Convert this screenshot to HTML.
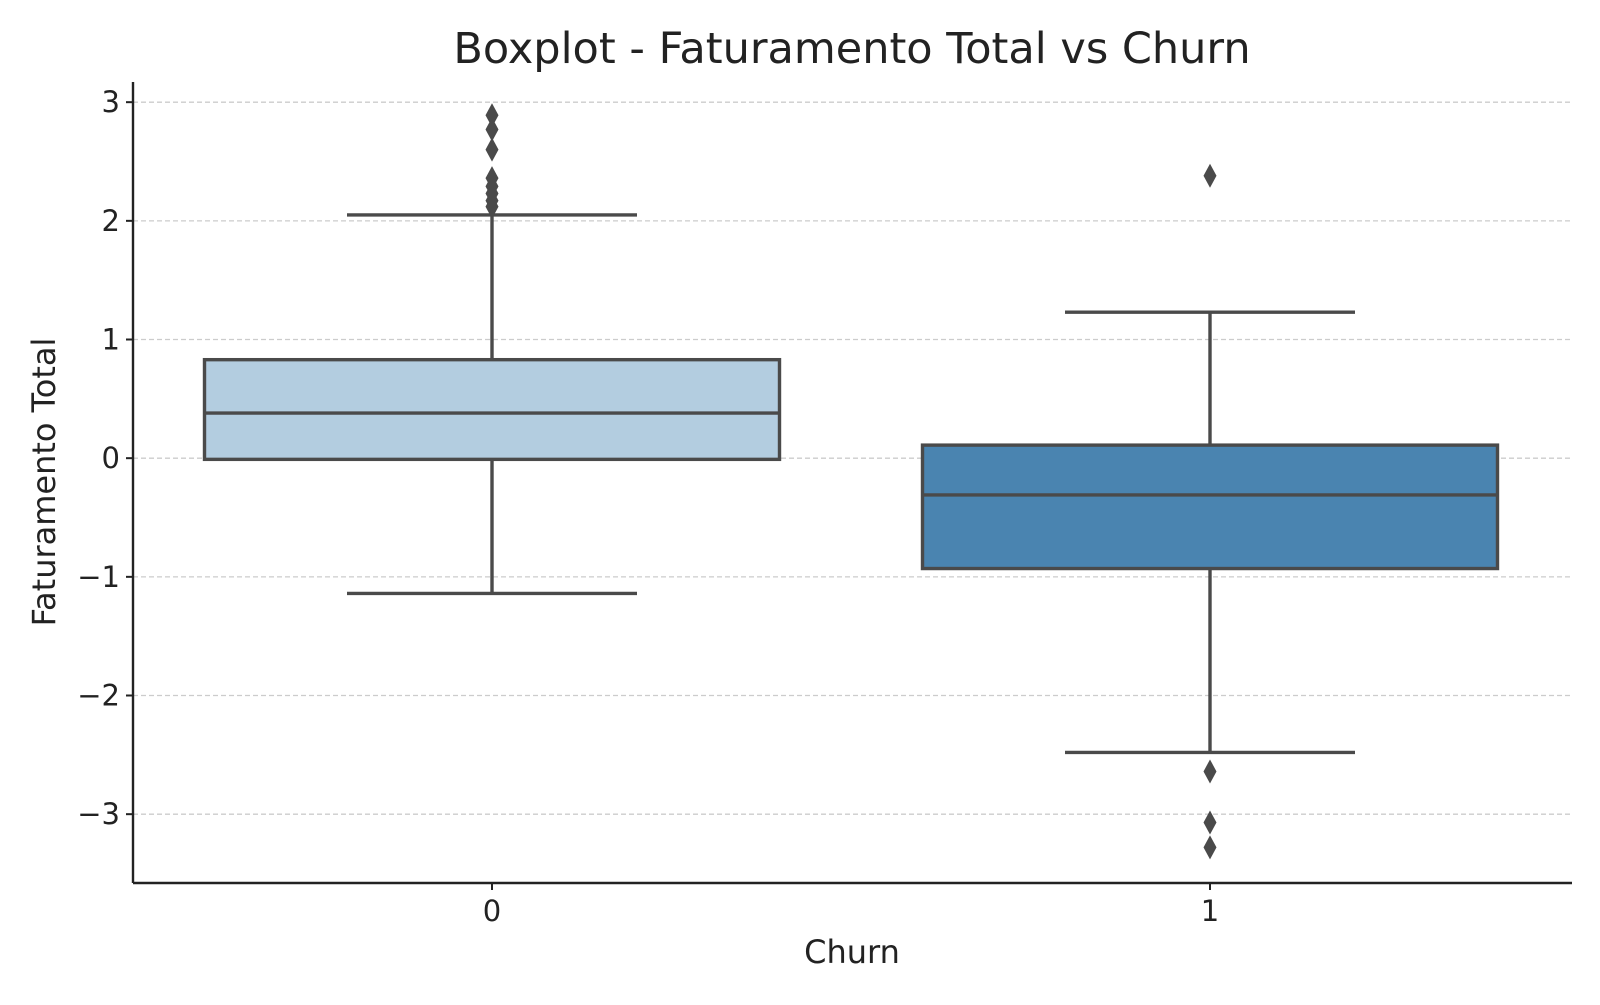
<!DOCTYPE html>
<html><head><meta charset="utf-8"><style>
body{margin:0;background:#fff}
svg text{font-family:"DejaVu Sans","Liberation Sans",sans-serif;fill:#222}
</style></head><body>
<svg id="chart" width="1600" height="1000" xmlns="http://www.w3.org/2000/svg">
<text x="852" y="63" font-size="43" text-anchor="middle" fill="#333">Boxplot - Faturamento Total vs Churn</text>
<g id="grid"></g>
<g id="boxes"></g>
<g id="axes"></g>
<text x="852" y="963" font-size="32" text-anchor="middle">Churn</text>
<text transform="translate(55,482) rotate(-90)" font-size="32" text-anchor="middle">Faturamento Total</text>
</svg>
<script>
const categories = ["0","1"];
const whiskerLow = [-1.14, -2.48];
const q1 = [-0.01, -0.93];
const medians = [0.38, -0.31];
const q3 = [0.83, 0.11];
const whiskerHigh = [2.05, 1.23];
const outliers0 = [2.89, 2.77, 2.60, 2.36, 2.29, 2.23, 2.17, 2.12];
const outliers1 = [2.38, -2.64, -3.07, -3.28];
const yTicks = [-3,-2,-1,0,1,2,3];
const fills = ["#b3cde0","#4a84b0"];

const L=133,R=1572,T=82,B=883;
const yMin=-3.58,yMax=3.17;
const y=v=>B-(v-yMin)/(yMax-yMin)*(B-T);
const xc=i=>492+i*718;
const NS="http://www.w3.org/2000/svg";
function mk(tag,attrs,parent){const e=document.createElementNS(NS,tag);for(const k in attrs)e.setAttribute(k,attrs[k]);parent.appendChild(e);return e;}
const grid=document.getElementById('grid'),boxes=document.getElementById('boxes'),axes=document.getElementById('axes');
yTicks.forEach(t=>{
  const g=mk('line',{x1:L,x2:R,y1:y(t),y2:y(t),stroke:'#cccccc','stroke-width':1.3,'stroke-dasharray':'5,3'},grid);
  
  
  const tk=mk('line',{x1:L-7,x2:L,y1:y(t),y2:y(t),stroke:'#222','stroke-width':2},axes);
  
  
  const lb=mk('text',{x:L-13,y:y(t)+10,'font-size':29,'text-anchor':'end'},axes);
  lb.textContent=(t<0?'\u2212'+(-t):String(t));
  
  
});
const ax1=mk('line',{x1:L,x2:L,y1:T,y2:B,stroke:'#222','stroke-width':2.4},axes);


const ax2=mk('line',{x1:L,x2:R,y1:B,y2:B,stroke:'#222','stroke-width':2.4},axes);


const outs=[outliers0,outliers1];
const hw=287.5,cw=145,col='#4a4a4a';
categories.forEach((c,i)=>{
  const x=xc(i);
  const g=mk('g',{},boxes);
  
  
  mk('line',{x1:x,x2:x,y1:y(whiskerLow[i]),y2:y(q1[i]),stroke:col,'stroke-width':3.4},g);
  mk('line',{x1:x,x2:x,y1:y(q3[i]),y2:y(whiskerHigh[i]),stroke:col,'stroke-width':3.4},g);
  mk('line',{x1:x-cw,x2:x+cw,y1:y(whiskerLow[i]),y2:y(whiskerLow[i]),stroke:col,'stroke-width':3.4},g);
  mk('line',{x1:x-cw,x2:x+cw,y1:y(whiskerHigh[i]),y2:y(whiskerHigh[i]),stroke:col,'stroke-width':3.4},g);
  mk('rect',{x:x-hw,y:y(q3[i]),width:2*hw,height:y(q1[i])-y(q3[i]),fill:fills[i],stroke:col,'stroke-width':3.4},g);
  mk('line',{x1:x-hw,x2:x+hw,y1:y(medians[i]),y2:y(medians[i]),stroke:col,'stroke-width':3.4},g);
  outs[i].forEach(v=>{
    const p=mk('polygon',{points:`${x},${y(v)-12} ${x+6.5},${y(v)} ${x},${y(v)+12} ${x-6.5},${y(v)}`,fill:col},g);
    
    
  });
  const tk=mk('line',{x1:x,x2:x,y1:B,y2:B+7,stroke:'#222','stroke-width':2},axes);
  
  
  const lb=mk('text',{x:x,y:B+38,'font-size':29,'text-anchor':'middle'},axes);
  lb.textContent=c;
  
  
});
</script>
</body></html>
